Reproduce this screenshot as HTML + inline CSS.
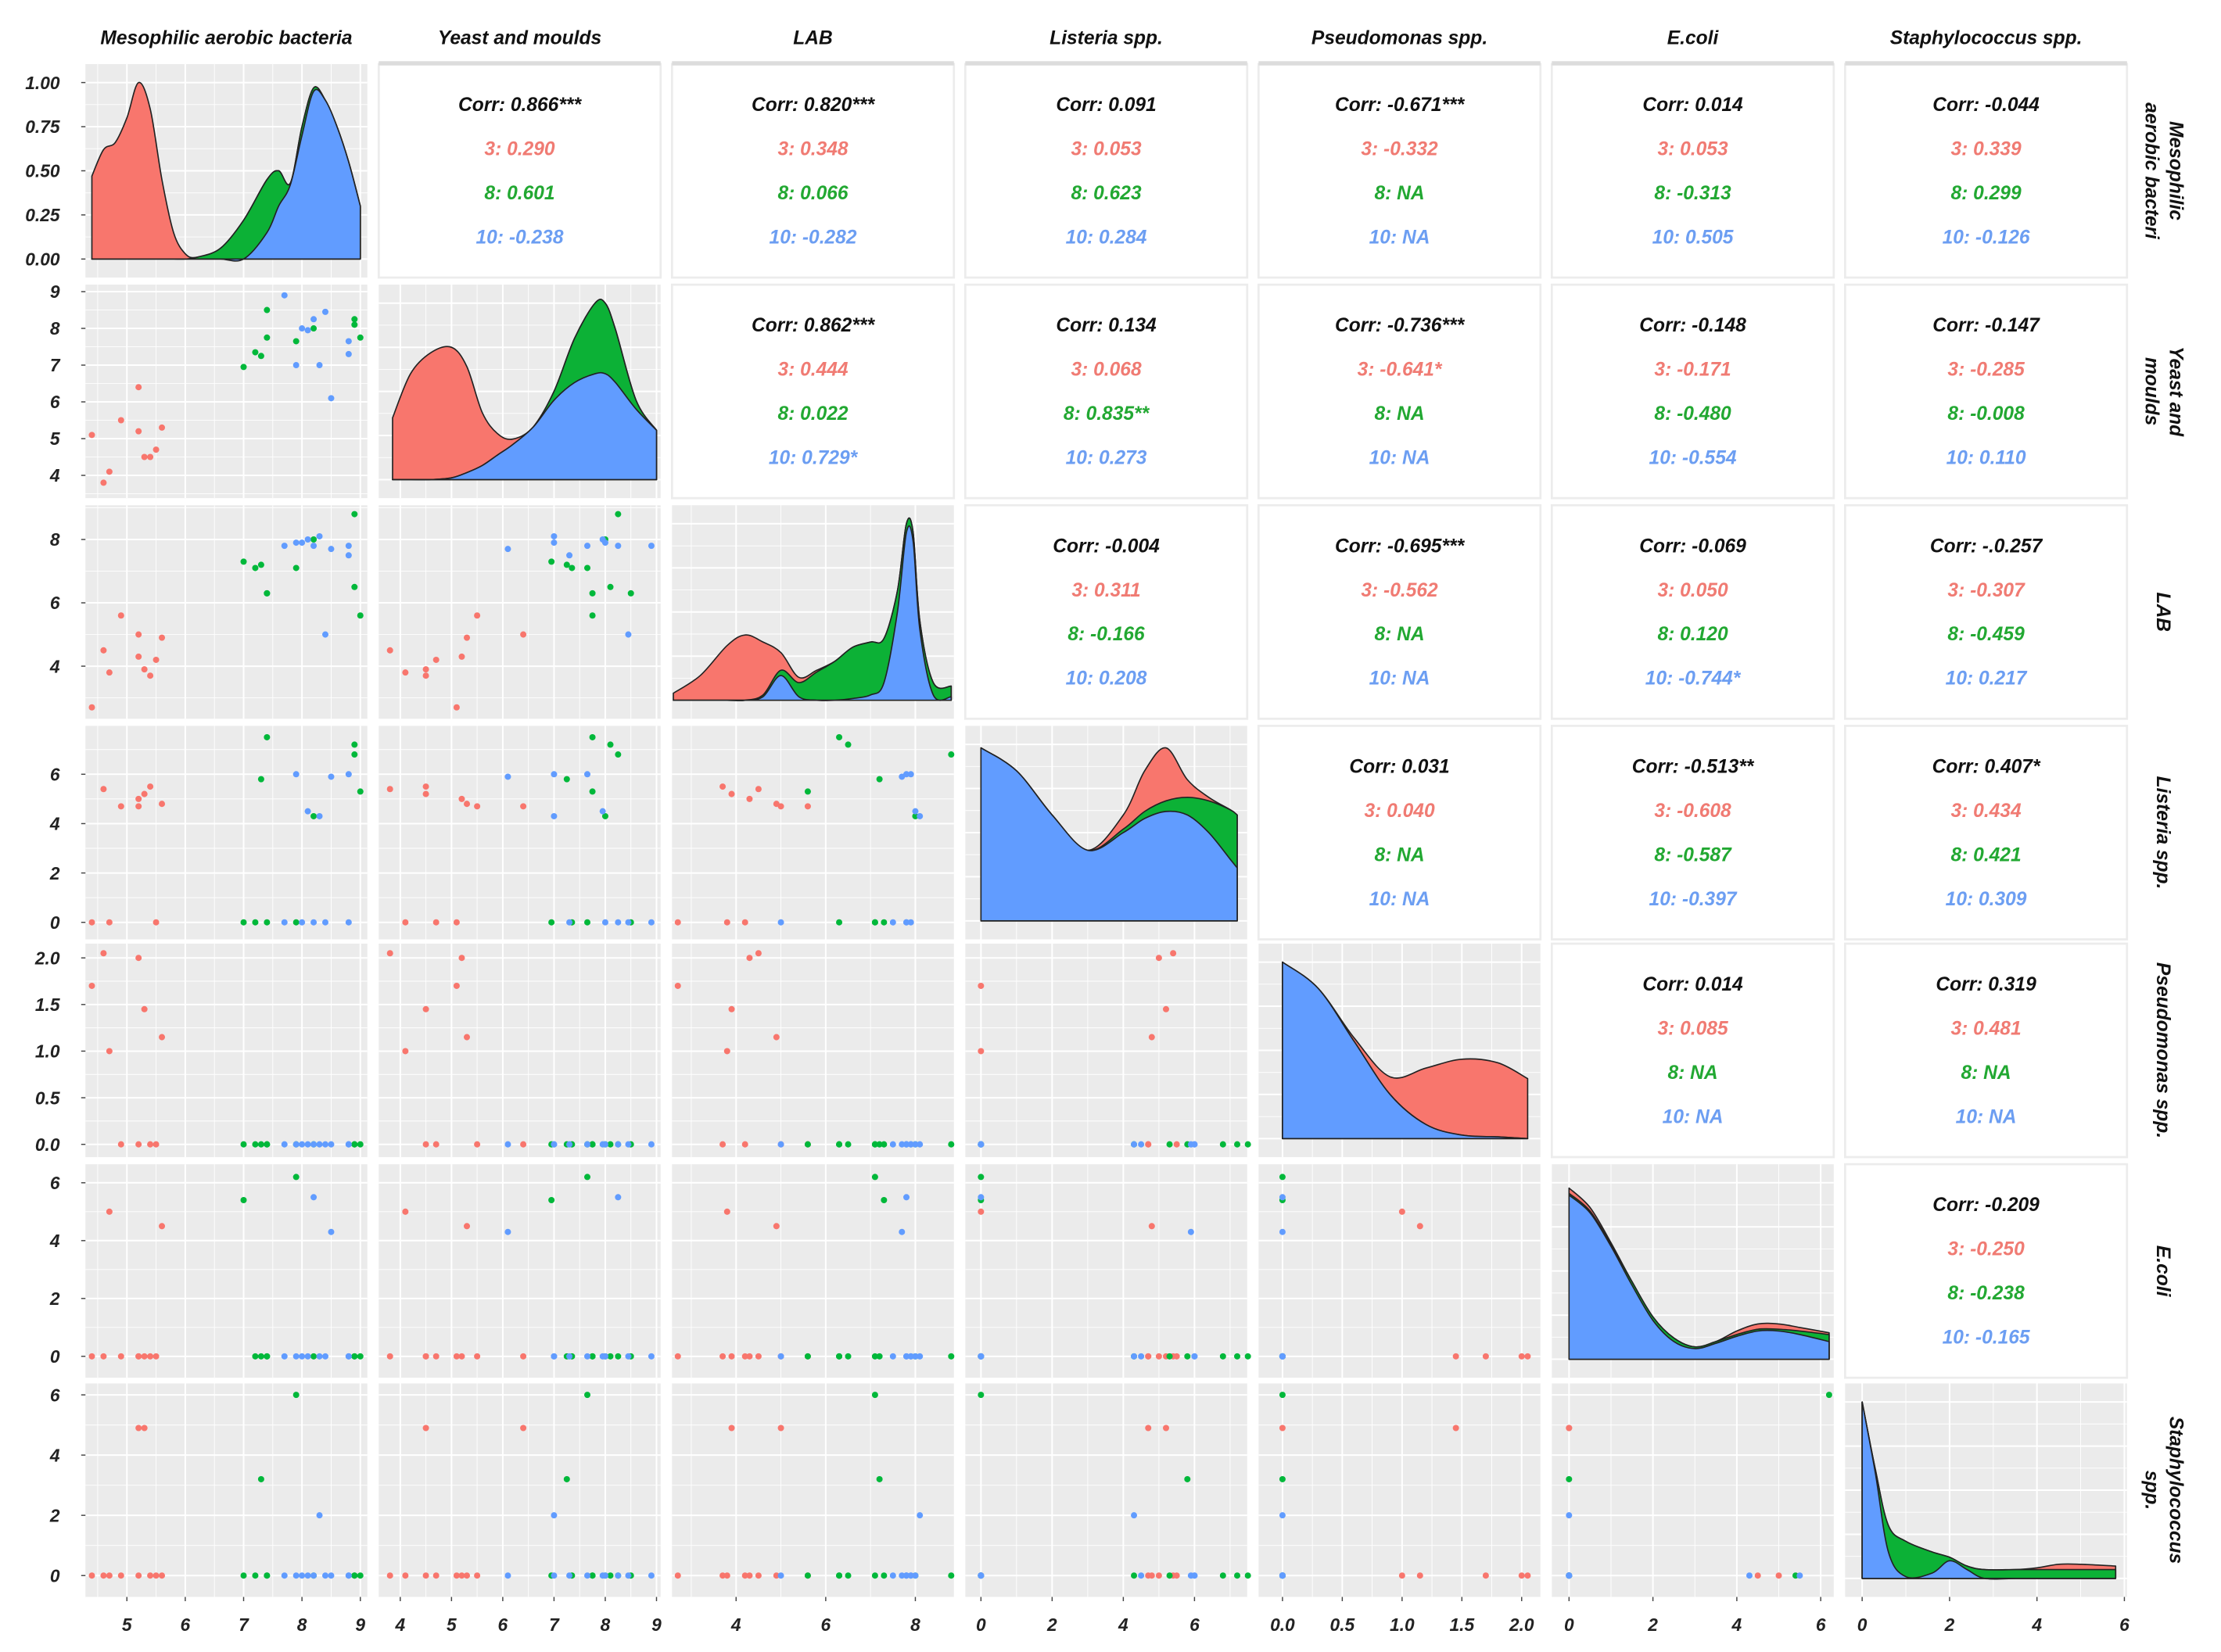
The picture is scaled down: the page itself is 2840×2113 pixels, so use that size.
<!DOCTYPE html>
<html><head><meta charset="utf-8"><style>
html,body{margin:0;padding:0;background:#fff;}
svg{display:block;}
text{font-family:"Liberation Sans",sans-serif;font-style:italic;font-weight:bold;}
</style></head><body>
<svg id="chart" width="2840" height="2113" viewBox="0 0 1560 1160.7" xmlns="http://www.w3.org/2000/svg"></svg>
<script>
// ---- data ----
const varNames = ["Mesophilic aerobic bacteria","Yeast and moulds","LAB","Listeria spp.","Pseudomonas spp.","E.coli","Staphylococcus spp."];
const stripLines = [["Mesophilic","aerobic bacteri"],["Yeast and","moulds"],["LAB"],["Listeria spp."],["Pseudomonas spp."],["E.coli"],["Staphylococcus","spp."]];
const groups = ["3","8","10"];
// observations: [M, Y, LAB, Listeria, Pseudomonas, E.coli, Staph]
const obsG3 = [[4.4,5.1,2.7,0,1.7,0,0],[4.6,3.8,4.5,5.4,2.05,0,0],[4.7,4.1,3.8,0,1.0,5.0,0],[4.9,5.5,5.6,4.7,0,0,0],[5.2,5.2,4.3,5.0,2.0,0,0],[5.2,6.4,5.0,4.7,0,0,4.9],[5.3,4.5,3.9,5.2,1.45,0,4.9],[5.4,4.5,3.7,5.5,0,0,0],[5.5,4.7,4.2,0,0,0,0],[5.6,5.3,4.9,4.8,1.15,4.5,0]];
const obsG8 = [[7.0,6.95,7.3,0,0,5.4,0],[7.2,7.35,7.1,0,0,0,0],[7.3,7.25,7.2,5.8,0,0,3.2],[7.4,7.75,6.3,7.5,0,0,0],[7.4,8.5,6.3,0,0,0,0],[7.9,7.65,7.1,0,0,6.2,6.0],[8.2,8.0,8.0,4.3,0,0,0],[8.9,8.1,6.5,7.2,0,0,0],[8.9,8.25,8.8,6.8,0,0,0],[9.0,7.75,5.6,5.3,0,0,0]];
const obsG10 = [[7.7,8.9,7.8,0,0,0,0],[7.9,7.0,7.9,6.0,0,0,0],[8.1,7.95,8.0,4.5,0,0,0],[8.2,8.25,7.8,0,0,5.5,0],[8.3,7.0,8.1,4.3,0,0,2.0],[8.4,8.45,5.0,0,0,0,0],[8.5,6.1,7.7,5.9,0,4.3,0],[8.8,7.65,7.8,6.0,0,0,0],[8.8,7.3,7.5,0,0,0,0],[8.0,8.0,7.9,0,0,0,0]];
// axis domains (x and y)
const xDom = [[4.29,9.12],[3.58,9.08],[2.57,8.86],[-0.44,7.48],[-0.2,2.157],[-0.41,6.31],[-0.39,6.06]];
const yDom = [[0,1],[3.38,9.19],[2.34,9.08],[-0.69,7.96],[-0.137,2.153],[-0.74,6.64],[-0.71,6.38]];
const xTicks = [[5,6,7,8,9],[4,5,6,7,8,9],[4,6,8],[0,2,4,6],[0,0.5,1,1.5,2],[0,2,4,6],[0,2,4,6]];
const xTickLabels = [["5","6","7","8","9"],["4","5","6","7","8","9"],["4","6","8"],["0","2","4","6"],["0.0","0.5","1.0","1.5","2.0"],["0","2","4","6"],["0","2","4","6"]];
const yTicks = [[0,0.25,0.5,0.75,1],[4,5,6,7,8,9],[4,6,8],[0,2,4,6],[0,0.5,1,1.5,2],[0,2,4,6],[0,2,4,6]];
const yTickLabels = [["0.00","0.25","0.50","0.75","1.00"],["4","5","6","7","8","9"],["4","6","8"],["0","2","4","6"],["0.0","0.5","1.0","1.5","2.0"],["0","2","4","6"],["0","2","4","6"]];
// density samples (fraction of panel height) per diagonal
const densX = [[4.4,4.6,4.8,5.0,5.2,5.4,5.6,5.8,6.0,6.2,6.6,7.0,7.4,7.6,7.8,8.0,8.2,8.4,8.6,8.8,9.0],[3.85,4.2,4.6,5.0,5.3,5.6,5.9,6.2,6.6,7.0,7.4,7.8,8.0,8.2,8.6,9.0],[2.6,3.2,3.8,4.2,4.6,5.0,5.4,5.8,6.2,6.6,7.0,7.3,7.6,7.8,7.95,8.1,8.4,8.8],[0,1,2,3,4,4.6,5.2,5.8,6.4,7.0,7.2],[0,0.3,0.6,0.9,1.2,1.5,1.8,2.05],[0,0.5,1,1.5,2,2.5,3,3.5,4,4.5,5,5.5,6.2],[0,0.3,0.6,1.0,1.6,2.0,2.4,2.8,3.5,4,4.5,5,5.8]];
const densRed = [[0.47,0.62,0.66,0.8,1.0,0.85,0.45,0.15,0.03,0,0,0,0,0,0,0,0,0,0,0,0],[0.35,0.6,0.72,0.74,0.6,0.3,0.12,0.03,0,0,0,0,0,0,0,0],[0.04,0.14,0.31,0.37,0.3,0.1,0.03,0.01,0,0,0,0,0,0,0,0,0,0],[0,0,0,0,0.08,0.23,0.3,0.1,0.02,0,0],[0,0,0.02,0.1,0.32,0.43,0.42,0.34],[0.03,0.02,0.01,0,0,0,0,0,0.02,0.03,0.03,0.02,0.01],[0,0,0,0,0,0,0,0,0,0.01,0.03,0.03,0.02]];
const densGreen = [[0,0,0,0,0,0,0,0,0,0.01,0.06,0.22,0.3,0.2,0.01,0.05,0.02,0,0,0,0],[0,0,0,0,0,0,0,0,0,0.05,0.25,0.4,0.4,0.3,0.05,0],[0,0,0,0,0.01,0.03,0.08,0.16,0.22,0.29,0.3,0.25,0.12,0.05,0.05,0.05,0.07,0.06],[0,0,0,0,0.02,0.04,0.06,0.1,0.18,0.28,0.3],[0,0,0,0,0,0,0,0],[0.01,0.01,0.01,0.02,0.02,0.02,0.01,0.01,0.01,0.01,0.01,0.02,0.04],[0,0.02,0.15,0.2,0.12,0.02,0.02,0.05,0.05,0.05,0.05,0.05,0.05]];
const densBlue = [[0,0,0,0,0,0,0,0,0,0,0,0,0.15,0.3,0.42,0.7,0.95,0.9,0.75,0.55,0.3],[0,0,0,0.01,0.04,0.08,0.14,0.2,0.3,0.45,0.55,0.6,0.6,0.55,0.4,0.28],[0,0,0,0,0.02,0.14,0.02,0,0,0.01,0.03,0.1,0.5,0.95,0.9,0.4,0.03,0.02],[0.98,0.85,0.6,0.4,0.5,0.58,0.62,0.6,0.5,0.35,0.3],[1.0,0.85,0.55,0.25,0.08,0.02,0.01,0],[0.93,0.83,0.64,0.42,0.22,0.1,0.06,0.09,0.13,0.16,0.16,0.14,0.1],[1.0,0.6,0.15,0.01,0.03,0.1,0.05,0,0,0,0,0,0]];
// correlation text [row][col] -> [overall, g3, g8, g10]
const corrText = {
"0,1":["0.866***","0.290","0.601","-0.238"],"0,2":["0.820***","0.348","0.066","-0.282"],"0,3":["0.091","0.053","0.623","0.284"],"0,4":["-0.671***","-0.332","NA","NA"],"0,5":["0.014","0.053","-0.313","0.505"],"0,6":["-0.044","0.339","0.299","-0.126"],
"1,2":["0.862***","0.444","0.022","0.729*"],"1,3":["0.134","0.068","0.835**","0.273"],"1,4":["-0.736***","-0.641*","NA","NA"],"1,5":["-0.148","-0.171","-0.480","-0.554"],"1,6":["-0.147","-0.285","-0.008","0.110"],
"2,3":["-0.004","0.311","-0.166","0.208"],"2,4":["-0.695***","-0.562","NA","NA"],"2,5":["-0.069","0.050","0.120","-0.744*"],"2,6":["-.0.257","-0.307","-0.459","0.217"],
"3,4":["0.031","0.040","NA","NA"],"3,5":["-0.513**","-0.608","-0.587","-0.397"],"3,6":["0.407*","0.434","0.421","0.309"],
"4,5":["0.014","0.085","NA","NA"],"4,6":["0.319","0.481","NA","NA"],
"5,6":["-0.209","-0.250","-0.238","-0.165"]};

// ---- layout ----
const colX = [60,266,472,678,884,1090,1296], PW = 198;
const rowY = [45,200,355,510,663,818,972], PH = 150;
const ptCol = ["#f8766d","#00b83a","#619cff"];
const txtCol = ["#111","#f07b73","#22a832","#6c9ef2"];
const fillCol = ["#f8766d","#0cb136","#619cff"];
const NS = "http://www.w3.org/2000/svg";
const svg = document.getElementById('chart');
function mk(tag, attrs, parent){const e=document.createElementNS(NS,tag);for(const k in attrs)e.setAttribute(k,attrs[k]);(parent||svg).appendChild(e);return e;}
function sx(v,c){const d=xDom[c];return colX[c]+(v-d[0])/(d[1]-d[0])*PW;}
function sy(v,r){const d=yDom[r];return rowY[r]+PH-(v-d[0])/(d[1]-d[0])*PH;}
function fy(f,r){return rowY[r]+137-f*124;}

function smoothPath(pts){
  let d="M"+pts[0][0]+","+pts[0][1];
  for(let i=0;i<pts.length-1;i++){
    const p0=pts[Math.max(0,i-1)],p1=pts[i],p2=pts[i+1],p3=pts[Math.min(pts.length-1,i+2)];
    const c1=[p1[0]+(p2[0]-p0[0])/6,p1[1]+(p2[1]-p0[1])/6];
    const c2=[p2[0]-(p3[0]-p1[0])/6,p2[1]-(p3[1]-p1[1])/6];
    d+=" C"+c1[0]+","+c1[1]+" "+c2[0]+","+c2[1]+" "+p2[0]+","+p2[1];
  }
  return d;
}

// column headers
varNames.forEach((n,c)=>{
  const t=mk('text',{x:colX[c]+PW/2,y:31,'text-anchor':'middle','font-size':13.5,fill:'#111'});
  
  
  t.textContent=n;
});
// strip labels on right
stripLines.forEach((lines,r)=>{
  const cy=rowY[r]+PH/2;
  const g=mk('g',{transform:`translate(1520,${cy}) rotate(90)`});
  
  
  lines.forEach((l,i)=>{
    const off = lines.length===1?5:(i===0?-4:13);
    const t=mk('text',{x:0,y:off,'text-anchor':'middle','font-size':13.5,fill:'#111'},g);
    t.textContent=l;
  });
});

const allObs=[obsG3,obsG8,obsG10];
for(let r=0;r<7;r++){
  for(let c=0;c<7;c++){
    const x0=colX[c],y0=rowY[r];
    const g=mk('g',{});
    if(c>r){
      
      
      mk('rect',{x:x0,y:y0,width:PW,height:PH,fill:'#fff',stroke:'#ececec','stroke-width':1.5},g);
      if(r===0) mk('rect',{x:x0,y:y0-2,width:PW,height:3,fill:'#dcdcdc'},g);
      const vals=corrText[r+","+c];
      const labels=["Corr: ","3: ","8: ","10: "];
      vals.forEach((v,i)=>{
        const t=mk('text',{x:x0+PW/2,y:y0+33+i*31,'text-anchor':'middle','font-size':13.5,fill:txtCol[i],'font-weight':i==0?'bold':'normal'},g);
        t.textContent=labels[i]+v;
      });
      continue;
    }
    
    
    mk('rect',{x:x0,y:y0,width:PW,height:PH,fill:'#ebebeb'},g);
    // gridlines
    const xt=xTicks[c];
    const step=xt.length>1?xt[1]-xt[0]:1;
    for(let v=xt[0]-step;v<=xt[xt.length-1]+step;v+=step/2){
      const px=sx(v,c); if(px<x0||px>x0+PW) continue;
      const major=Math.abs((v-xt[0])/step-Math.round((v-xt[0])/step))<1e-6;
      mk('line',{x1:px,x2:px,y1:y0,y2:y0+PH,stroke:'#fff','stroke-width':major?1.1:0.5},g);
    }
    if(r!==c || r===0){
      const yt=yTicks[r];
      const ys=yt[1]-yt[0];
      for(let v=yt[0]-ys;v<=yt[yt.length-1]+ys;v+=ys/2){
        const py = r===0&&c===0 ? fy(v,0) : sy(v,r);
        if(py<y0||py>y0+PH) continue;
        const major=Math.abs((v-yt[0])/ys-Math.round((v-yt[0])/ys))<1e-6;
        mk('line',{x1:x0,x2:x0+PW,y1:py,y2:py,stroke:'#fff','stroke-width':major?1.1:0.5},g);
      }
    } else {
      for(let f=0;f<=1.0001;f+=0.125){
        const py=fy(f,r);
        mk('line',{x1:x0,x2:x0+PW,y1:py,y2:py,stroke:'#fff','stroke-width':(Math.round(f*8)%2===0)?1.1:0.5},g);
      }
    }
    if(r===c){
      const xs=densX[r], R=densRed[r], G=densGreen[r], B=densBlue[r];
      const layers=[xs.map((x,i)=>B[i]+G[i]+R[i]), xs.map((x,i)=>B[i]+G[i]), xs.map((x,i)=>B[i])];
      const base=fy(0,r);
      layers.forEach((L,k)=>{
        const pts=xs.map((x,i)=>[sx(x,c),fy(L[i],r)]);
        const d=smoothPath(pts)+` L${pts[pts.length-1][0]},${base} L${pts[0][0]},${base} Z`;
        const p=mk('path',{d:d,fill:fillCol[k],stroke:'#222','stroke-width':0.9,'stroke-linejoin':'round'},g);
        
        
      });
    } else {
      allObs.forEach((obs,k)=>{
        obs.forEach(o=>{
          const p=mk('circle',{cx:sx(o[c],c),cy:sy(o[r],r),r:2.2,fill:ptCol[k]},g);
          
          
        });
      });
    }
  }
}
// y axis labels (left)
for(let r=0;r<7;r++){
  yTicks[r].forEach((v,i)=>{
    const py = r===0 ? fy(v,0) : sy(v,r);
    mk('line',{x1:57,x2:60,y1:py,y2:py,stroke:'#444','stroke-width':0.8});
    const t=mk('text',{x:42,y:py+4.5,'text-anchor':'end','font-size':12.5,'font-style':'normal',fill:'#222'});
    
    
    t.textContent=yTickLabels[r][i];
  });
}
// x axis labels (bottom)
for(let c=0;c<7;c++){
  xTicks[c].forEach((v,i)=>{
    const px=sx(v,c);
    mk('line',{x1:px,x2:px,y1:1122,y2:1125,stroke:'#444','stroke-width':0.8});
    const t=mk('text',{x:px,y:1146,'text-anchor':'middle','font-size':12.5,'font-style':'normal',fill:'#222'});
    
    
    t.textContent=xTickLabels[c][i];
  });
}
</script>
</body></html>
